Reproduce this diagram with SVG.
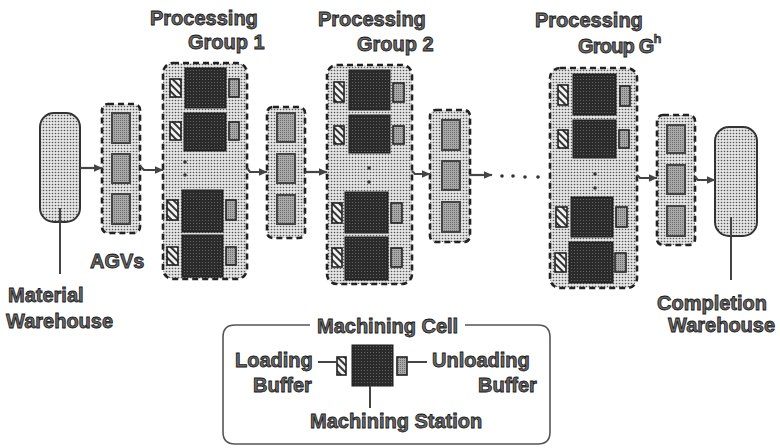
<svg xmlns="http://www.w3.org/2000/svg" width="780" height="448" viewBox="0 0 780 448">
<defs>
<pattern id="dots" width="3" height="3" patternUnits="userSpaceOnUse"><rect width="3" height="3" fill="#e4e4e4"/><circle cx="1.5" cy="1.5" r="0.8" fill="#555"/></pattern>
<pattern id="darkp" width="3" height="3" patternUnits="userSpaceOnUse"><rect width="3" height="3" fill="#2a2a2a"/><circle cx="1.5" cy="1.5" r="0.6" fill="#6a6a6a"/></pattern>
<pattern id="grayp" width="2" height="2" patternUnits="userSpaceOnUse"><rect width="2" height="2" fill="#a8a8a8"/><rect width="1" height="1" fill="#6e6e6e"/></pattern>
<pattern id="hatch" width="5" height="5" patternUnits="userSpaceOnUse" patternTransform="rotate(-45)"><rect width="5" height="5" fill="#f2f2f2"/><rect width="2" height="5" fill="#333"/></pattern>
<marker id="ah" markerWidth="9" markerHeight="8" refX="8.5" refY="4" orient="auto" markerUnits="userSpaceOnUse"><path d="M0,0 L9,4 L0,8 Z" fill="#444"/></marker>
</defs>
<style>
.grp{fill:url(#dots);stroke:#222;stroke-width:2.6;stroke-dasharray:6 4}
.agv{fill:url(#dots);stroke:#222;stroke-width:2.6;stroke-dasharray:6 4}
.veh{fill:url(#grayp);stroke:#444;stroke-width:2}
.st{fill:url(#darkp);stroke:#1a1a1a;stroke-width:1}
.lb{fill:url(#hatch);stroke:#222;stroke-width:1.6}
.ub{fill:url(#grayp);stroke:#222;stroke-width:1.6}
.wh{fill:url(#dots);stroke:#333;stroke-width:2}
.dot{fill:#333}
.ln{stroke:#444;stroke-width:2;fill:none}
.arr{stroke:#444;stroke-width:2.2;fill:none;marker-end:url(#ah)}
.t{font-family:"Liberation Sans",Arial,sans-serif;font-weight:bold;font-size:20px;fill:#6a6a6a;stroke:#151515;stroke-width:0.8}
.leg{fill:none;stroke:#555;stroke-width:1.6}
</style>

<g id="material-warehouse">
<rect class="wh" x="40" y="113" width="40" height="109" rx="14"/>
<line class="ln" x1="60" y1="208" x2="60" y2="274"/>
<text class="t" x="8" y="302">Material</text>
<text class="t" x="6" y="328">Warehouse</text>
</g>

<g id="agvs-1">
<rect class="agv" x="102" y="104" width="38" height="129" rx="6"/>
<rect class="veh" x="112" y="113" width="18" height="30"/>
<rect class="veh" x="112" y="154" width="18" height="29"/>
<rect class="veh" x="112" y="194" width="18" height="30"/>
<text class="t" x="90" y="268">AGVs</text>
</g>

<g id="processing-group-1">
<text class="t" x="150" y="25">Processing</text>
<text class="t" x="188" y="49">Group 1</text>
<rect class="grp" x="163" y="63" width="84" height="216" rx="10"/>
<rect class="lb" x="170" y="79" width="11" height="18"/><rect class="st" x="185" y="68" width="41" height="40"/><rect class="ub" x="229" y="79" width="10" height="18"/>
<rect class="lb" x="170" y="122" width="11" height="18"/><rect class="st" x="184" y="113" width="42" height="38"/><rect class="ub" x="229" y="122" width="10" height="18"/>
<circle class="dot" cx="185" cy="162" r="1.8"/><circle class="dot" cx="185" cy="175" r="1.8"/>
<rect class="lb" x="167" y="200" width="11" height="20"/><rect class="st" x="182" y="190" width="41" height="42"/><rect class="ub" x="226" y="200" width="10" height="20"/>
<rect class="lb" x="167" y="247" width="11" height="18"/><rect class="st" x="182" y="235" width="41" height="42"/><rect class="ub" x="226" y="247" width="10" height="18"/>
</g>

<g id="agvs-2">
<rect class="agv" x="267" y="107" width="38" height="131" rx="6"/>
<rect class="veh" x="277" y="113" width="18" height="29"/>
<rect class="veh" x="277" y="154" width="18" height="29"/>
<rect class="veh" x="277" y="195" width="18" height="29"/>
</g>

<g id="processing-group-2">
<text class="t" x="318" y="26">Processing</text>
<text class="t" x="357" y="51">Group 2</text>
<rect class="grp" x="327" y="65" width="85" height="219" rx="10"/>
<rect class="lb" x="334" y="82" width="10" height="20"/><rect class="st" x="349" y="70" width="41" height="40"/><rect class="ub" x="393" y="83" width="11" height="19"/>
<rect class="lb" x="334" y="126" width="10" height="18"/><rect class="st" x="349" y="115" width="41" height="38"/><rect class="ub" x="393" y="126" width="11" height="18"/>
<circle class="dot" cx="369" cy="168" r="1.8"/><circle class="dot" cx="369" cy="182" r="1.8"/>
<rect class="lb" x="332" y="203" width="10" height="20"/><rect class="st" x="345" y="192" width="43" height="41"/><rect class="ub" x="391" y="203" width="11" height="20"/>
<rect class="lb" x="332" y="248" width="10" height="19"/><rect class="st" x="345" y="237" width="43" height="43"/><rect class="ub" x="391" y="248" width="11" height="19"/>
</g>

<g id="agvs-3">
<rect class="agv" x="430" y="110" width="40" height="132" rx="6"/>
<rect class="veh" x="442" y="120" width="18" height="30"/>
<rect class="veh" x="442" y="161" width="18" height="29"/>
<rect class="veh" x="442" y="202" width="18" height="30"/>
</g>

<g id="ellipsis">
<circle class="dot" cx="502" cy="176" r="1.8"/><circle class="dot" cx="513" cy="176" r="1.8"/><circle class="dot" cx="525" cy="177" r="1.8"/><circle class="dot" cx="538" cy="177" r="1.8"/>
</g>

<g id="processing-group-g">
<text class="t" x="535" y="27">Processing</text>
<text class="t" x="578" y="53" style="letter-spacing:-0.8px">Group G<tspan dy="-10" style="font-size:13px;stroke-width:0.6;letter-spacing:0">h</tspan></text>
<rect class="grp" x="550" y="68" width="87" height="220" rx="10"/>
<rect class="lb" x="558" y="85" width="10" height="20"/><rect class="st" x="573" y="74" width="43" height="41"/><rect class="ub" x="620" y="86" width="10" height="20"/>
<rect class="lb" x="558" y="130" width="10" height="18"/><rect class="st" x="573" y="120" width="43" height="38"/><rect class="ub" x="619" y="130" width="10" height="18"/>
<circle class="dot" cx="595" cy="174" r="1.8"/><circle class="dot" cx="595" cy="188" r="1.8"/>
<rect class="lb" x="556" y="207" width="11" height="20"/><rect class="st" x="571" y="197" width="42" height="40"/><rect class="ub" x="616" y="207" width="11" height="20"/>
<rect class="lb" x="555" y="253" width="11" height="19"/><rect class="st" x="569" y="242" width="44" height="41"/><rect class="ub" x="615" y="253" width="11" height="19"/>
</g>

<g id="agvs-4">
<rect class="agv" x="657" y="115" width="38" height="130" rx="6"/>
<rect class="veh" x="667" y="125" width="18" height="28"/>
<rect class="veh" x="667" y="165" width="18" height="29"/>
<rect class="veh" x="667" y="206" width="18" height="30"/>
</g>

<g id="completion-warehouse">
<rect class="wh" x="715" y="127" width="42" height="109" rx="14"/>
<line class="ln" x1="731" y1="217" x2="731" y2="280"/>
<text class="t" x="657" y="310">Completion</text>
<text class="t" x="668" y="332">Warehouse</text>
</g>

<g id="connectors">
<line class="arr" x1="80" y1="168" x2="102" y2="168"/>
<path class="arr" d="M140,166 L144,170 L163,170"/>
<path class="arr" d="M247,168 L250,172 L267,172"/>
<line class="arr" x1="305" y1="172" x2="327" y2="172"/>
<path class="arr" d="M412,171 L415,174 L430,174"/>
<line class="arr" x1="470" y1="175" x2="492" y2="175"/>
<path class="arr" d="M637,175 L640,178 L657,178"/>
<path class="arr" d="M695,177 L698,180 L715,180"/>
</g>

<g id="legend-machining-cell">
<path class="leg" d="M310,325 L235,325 Q223,325 223,337 L223,432 Q223,444 235,444 L538,444 Q550,444 550,432 L550,337 Q550,325 538,325 L465,325"/>
<text class="t" x="317" y="333">Machining Cell</text>
<rect class="st" x="352" y="345" width="41" height="41"/>
<rect class="lb" x="337" y="357" width="9" height="18"/>
<rect class="ub" x="397" y="357" width="10" height="18"/>
<line class="ln" x1="318" y1="362" x2="337" y2="362"/>
<line class="ln" x1="407" y1="362" x2="427" y2="362"/>
<line class="ln" x1="370" y1="386" x2="370" y2="408"/>
<text class="t" x="235" y="367">Loading</text>
<text class="t" x="253" y="392">Buffer</text>
<text class="t" x="432" y="367">Unloading</text>
<text class="t" x="478" y="392">Buffer</text>
<text class="t" x="310" y="428">Machining Station</text>
</g>
</svg>
